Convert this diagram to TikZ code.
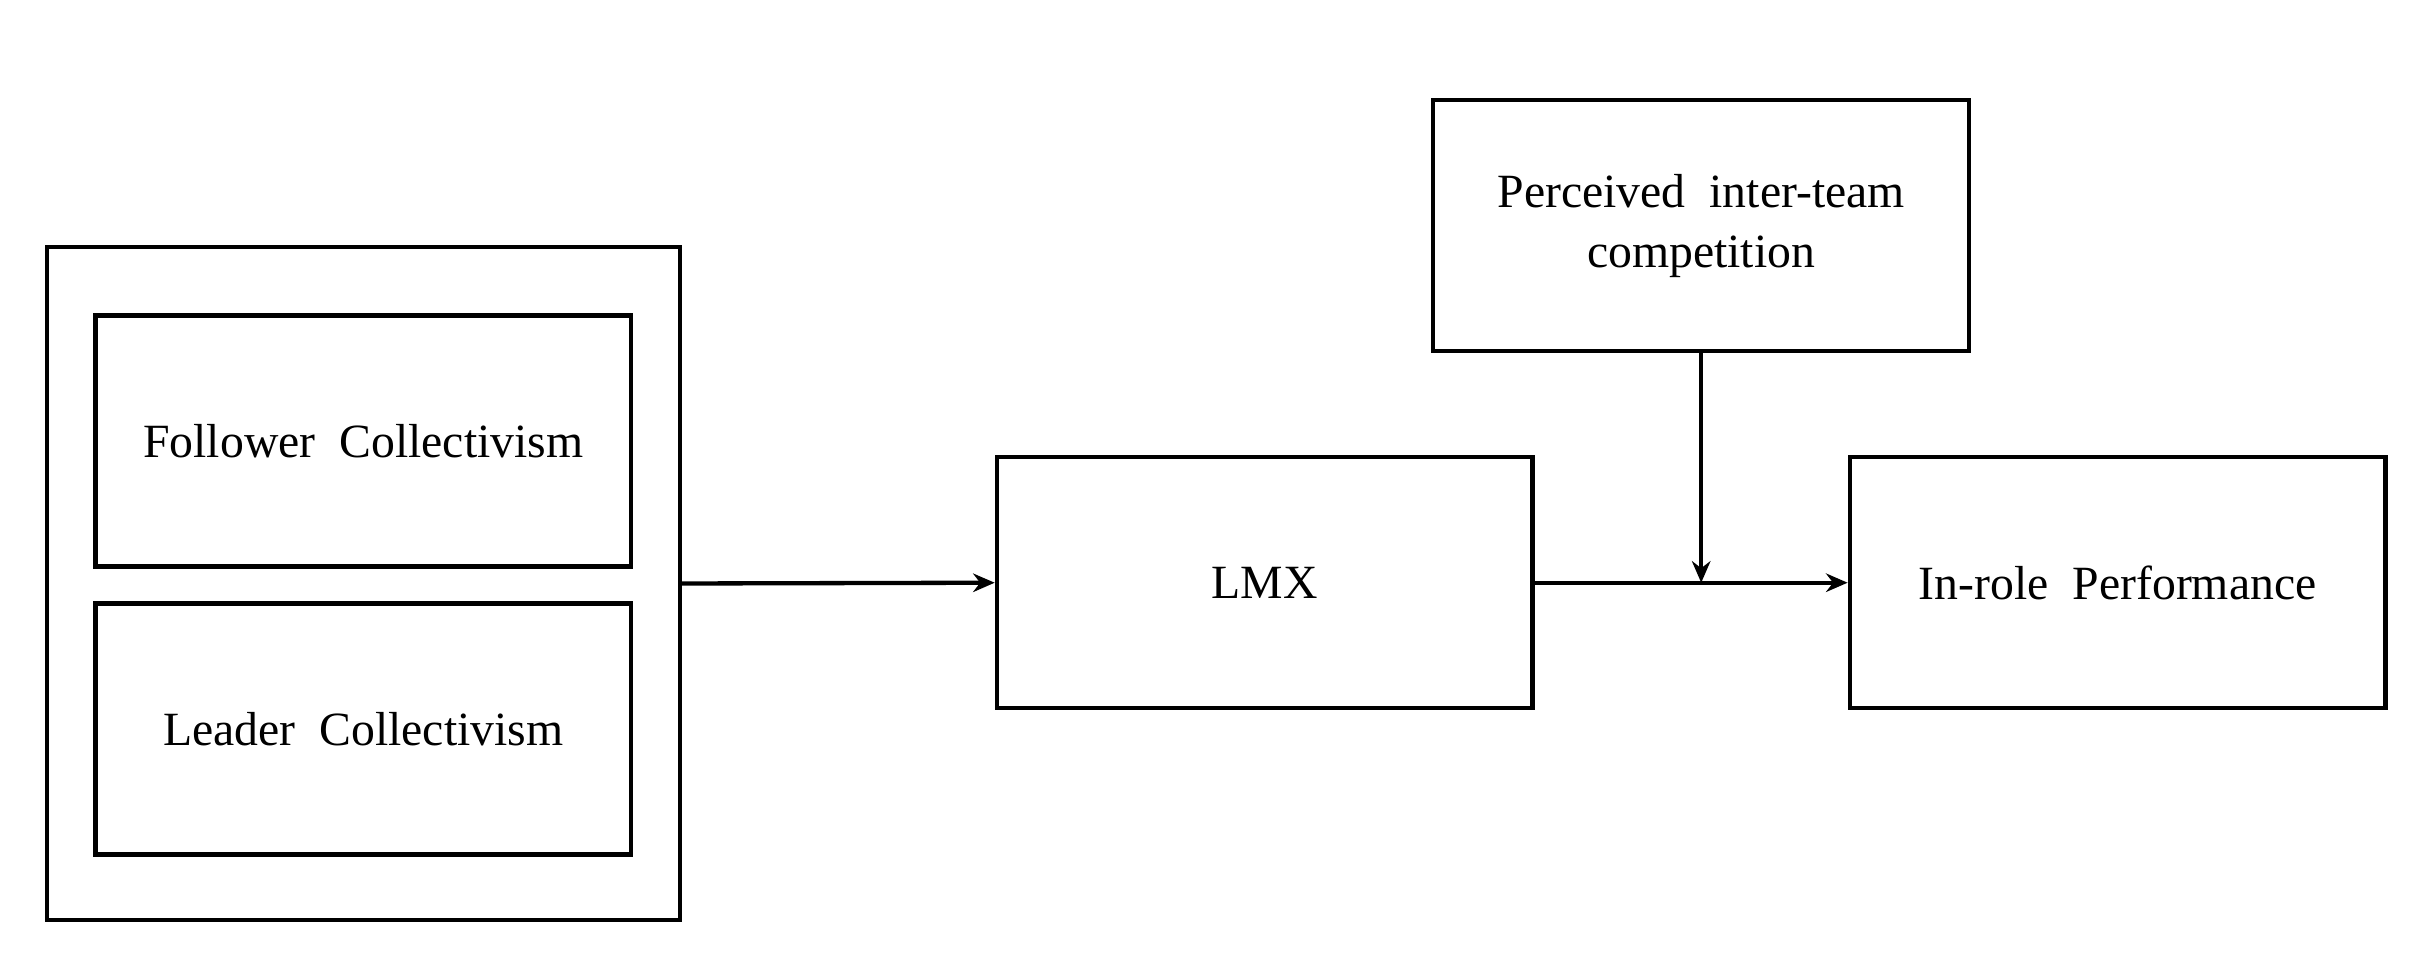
\documentclass[tikz,border=0pt]{standalone}
\usepackage{fontspec}
\setmainfont{Liberation Serif}
\usetikzlibrary{arrows.meta}

\begin{document}
\begin{tikzpicture}[x=1pt,y=1pt,yscale=-1,
  box/.style={draw,line width=2.8pt,minimum width=348pt,minimum height=163pt,align=center,font=\fontsize{31}{39}\selectfont},
  link/.style={line width=2.8pt,-{Stealth[length=14pt,width=12pt]}}]
\useasboundingbox (0,0) rectangle (1568,629);

%Outer frame
\node [draw,line width=2.8pt,minimum width=411pt,minimum height=437pt] (frame) at (236,379) {};
% Text Nodes
\node [box] (follower) at (236,286.5) {Follower\ \ Collectivism};
\node [box] (leader) at (236,473.5) {Leader\ \ Collectivism};
\node [box] (lmx) at (821.5,378.5) {LMX};
\node [box] (comp) at (1105,146.5) {Perceived\ \ inter-team\\competition};
\node [box] (perf) at (1375.5,378.5) {In-role\ \ Performance};
\coordinate (join) at (comp.south |- lmx.east);

%Straight Lines
\draw [link] (frame.east) -- (lmx.west);
\draw [link] (lmx.east) -- (perf.west);
\draw [link] (comp.south) -- (join);

\end{tikzpicture}
\end{document}
